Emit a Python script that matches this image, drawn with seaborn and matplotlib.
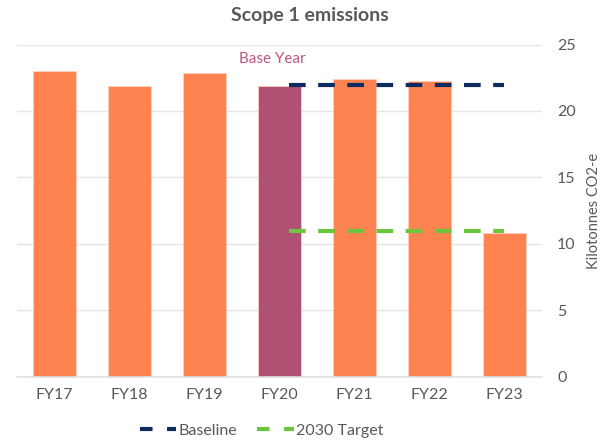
import matplotlib
matplotlib.use("Agg")
import matplotlib.pyplot as plt
import seaborn as sns
import pandas as pd
from matplotlib.lines import Line2D

years = ["FY17", "FY18", "FY19", "FY20", "FY21", "FY22", "FY23"]
emissions = [23.0, 21.9, 22.85, 21.9, 22.4, 22.25, 10.8]
base_year = "FY20"
baseline_value = 21.93
target_value = 10.95
y_ticks = [0, 5, 10, 15, 20, 25]

ORANGE = "#FF8350"
PURPLE = "#AE5173"
NAVY = "#0D2B5E"
GREEN = "#6CC63B"
TEXT = "#595959"

sns.set_style("white")
plt.rcParams["font.family"] = ["Lato", "DejaVu Sans"]

df = pd.DataFrame({"year": years, "value": emissions})
df["kind"] = ["base" if y == base_year else "other" for y in years]

fig = plt.figure(figsize=(6.08, 4.45), dpi=100)
ax = fig.add_axes([0.028, 0.153, 0.863, 0.747])

sns.barplot(data=df, x="year", y="value", hue="kind",
            palette={"base": PURPLE, "other": ORANGE}, saturation=1,
            dodge=False, width=0.57, legend=False, ax=ax,
            edgecolor="#FFD0BC", linewidth=0.6)

bi = years.index(base_year)
x0 = bi + 0.13
x1 = len(years) - 1
ax.plot([x0, x1], [baseline_value, baseline_value], color=NAVY, lw=3,
        dashes=(4, 3), zorder=5)
ax.plot([x0, x1], [target_value, target_value], color=GREEN, lw=3,
        dashes=(4, 3), zorder=5)

ax.text(bi - 0.1, 23.9, "Base Year", color="#C0577F", fontsize=11,
        ha="center", va="center")

ax.set_xlim(-0.5, len(years) - 0.5)
ax.set_ylim(0, 25)
ax.set_yticks(y_ticks)
ax.yaxis.tick_right()
ax.yaxis.set_label_position("right")
ax.set_ylabel("Kilotonnes CO2-e", color=TEXT, fontsize=10.5, labelpad=8)
ax.set_xlabel("")
ax.tick_params(axis="both", length=0, colors=TEXT, labelsize=11.5)
ax.tick_params(axis="y", pad=11)
ax.tick_params(axis="x", pad=8)
ax.grid(axis="y", color="#E5E5E5", lw=1)
ax.set_axisbelow(True)
for s in ["top", "left", "right"]:
    ax.spines[s].set_visible(False)
ax.spines["bottom"].set_color("#E0E0E0")
ax.spines["bottom"].set_linewidth(1.2)

fig.suptitle("Scope 1 emissions", x=0.51, y=0.985, fontsize=14,
             fontweight="bold", color=TEXT)

handles = [Line2D([0], [0], color=NAVY, lw=3, dashes=(3, 3.5)),
           Line2D([0], [0], color=GREEN, lw=3, dashes=(3, 3.5))]
fig.legend(handles, ["Baseline", "2030 Target"], loc="center",
           bbox_to_anchor=(0.43, 0.032), ncol=2, frameon=False,
           fontsize=11.5, handlelength=2.3, handletextpad=0.1,
           columnspacing=1.3, labelcolor=TEXT)

fig.savefig("out.png", dpi=100)
